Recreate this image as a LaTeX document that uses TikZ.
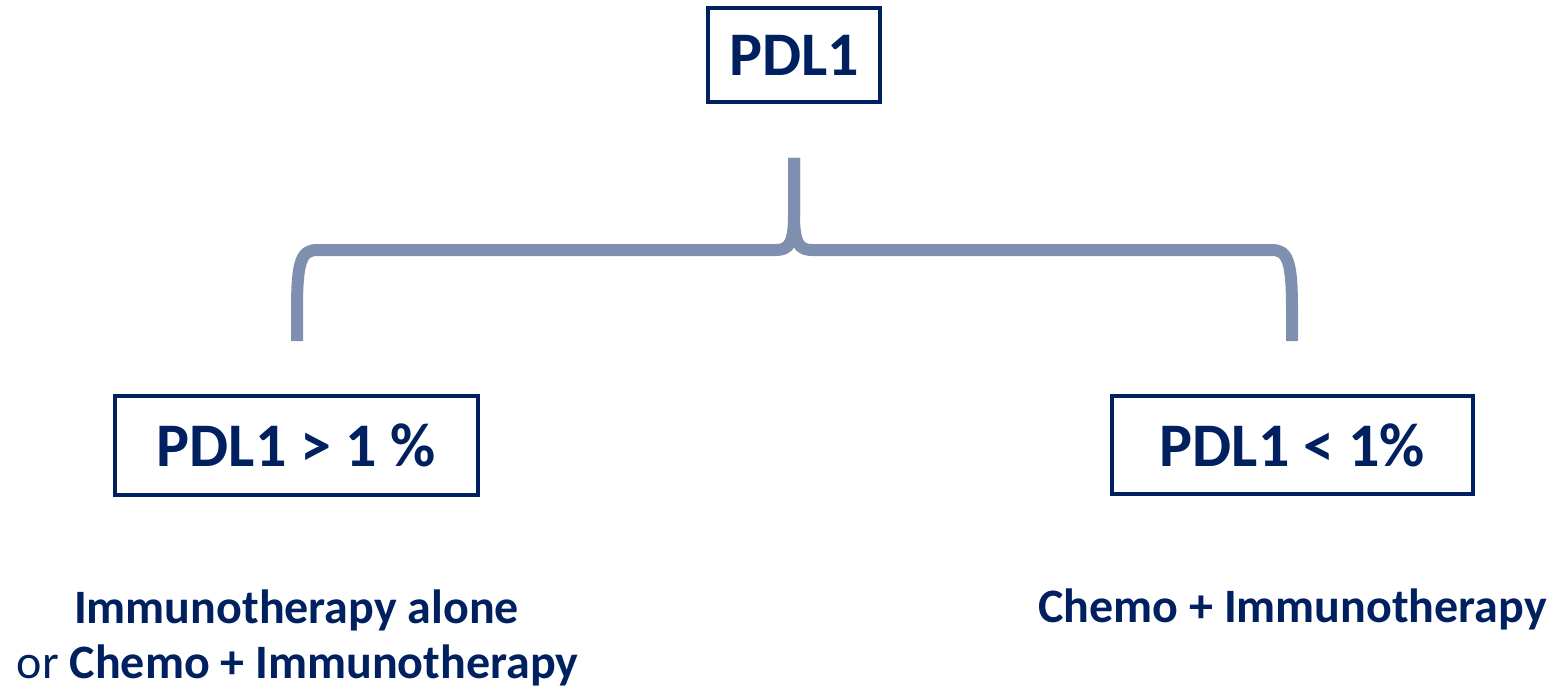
\documentclass[tikz,border=0pt]{standalone}
\usepackage{fontspec}
\setmainfont{Carlito}
\definecolor{navy}{HTML}{002060}
\definecolor{bracecol}{HTML}{7F8FB0}
\begin{document}
\begin{tikzpicture}[x=1pt,y=-1pt,
  box/.style={draw=navy, line width=4pt, text=navy, font=\bfseries\fontsize{62}{74}\selectfont, inner sep=0pt},
  lbl/.style={text=navy, font=\fontsize{48}{58}\selectfont, inner sep=0pt, anchor=base},
  bracestyle/.style={draw=bracecol, line width=12pt, line cap=butt, line join=round}]
\useasboundingbox (0,0) rectangle (1552,687);
\node[box, minimum width=172pt, minimum height=94pt] (top) at (794,55) {PDL1};
\node[box, minimum width=363pt, minimum height=99pt] (left) at (296.5,445.5) {PDL1 > 1 \%};
\node[box, minimum width=361pt, minimum height=98pt] (right) at (1292.5,445) {PDL1 < 1\%};
\node[lbl] (l1) at (296.5,623) {\bfseries Immunotherapy alone};
\node[lbl] (l2) at (297.5,678) {or \bfseries Chemo + Immunotherapy};
\node[lbl] (r1) at (1292.5,622) {\bfseries Chemo + Immunotherapy};
\coordinate (stem) at (794,158);
\coordinate (lt) at (297,341);
\coordinate (rt) at (1292,341);
\draw[bracestyle] (lt) -- (297,310) .. controls (297,262) and (301,250) .. (317,250) -- (776,250) .. controls (789,250) and (794,243) .. (794,215) -- (stem);
\draw[bracestyle] (rt) -- (1292,310) .. controls (1292,262) and (1288,250) .. (1272,250) -- (812,250) .. controls (799,250) and (794,243) .. (794,215) -- (stem);
\end{tikzpicture}
\end{document}
